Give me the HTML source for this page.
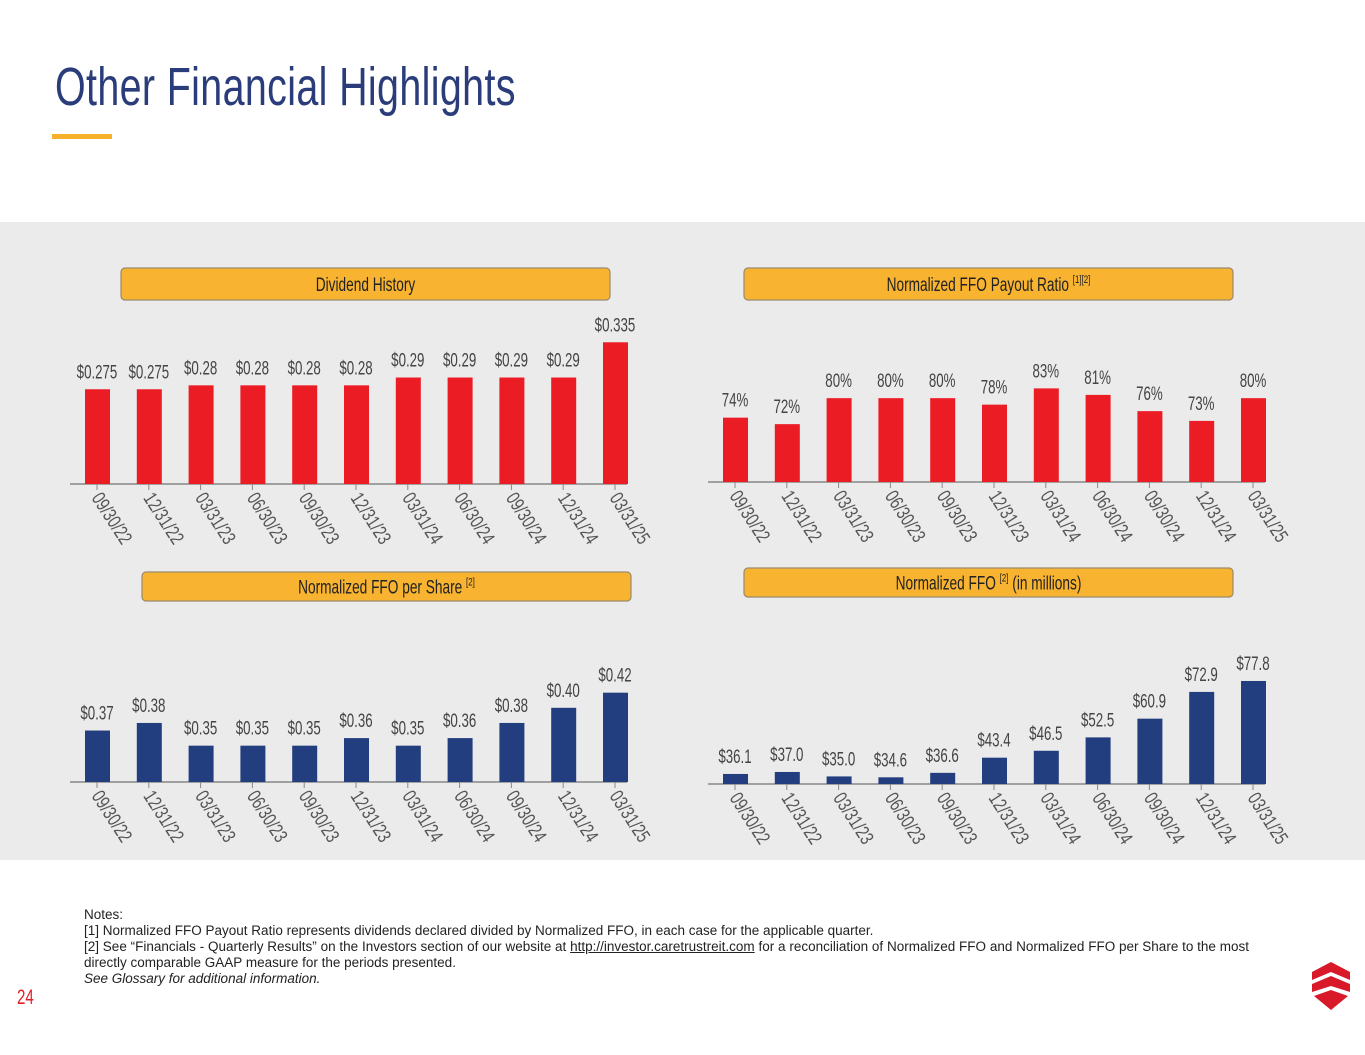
<!DOCTYPE html>
<html><head><meta charset="utf-8">
<style>
body{margin:0;width:1365px;height:1055px;background:#fff;position:relative;overflow:hidden;font-family:"Liberation Sans",sans-serif;}
#title{position:absolute;left:55px;top:56px;font-size:54px;color:#2a3d7a;transform:scaleX(0.73);transform-origin:left top;white-space:nowrap;letter-spacing:0.5px}
#uline{position:absolute;left:52px;top:134px;width:60px;height:5px;background:#f6b12b}
#panel{position:absolute;left:0;top:222px;width:1365px;height:638px;background:#ebebeb}
svg{position:absolute;left:0;top:0}
#notes{position:absolute;left:84px;top:907px;width:1165px;font-family:"Liberation Sans",sans-serif;font-size:13.5px;line-height:16px;color:#222;text-align:justify}
#pnum{position:absolute;left:17px;top:986px;font-size:21px;color:#e31e24;transform:scaleX(0.72);transform-origin:left top}
</style></head><body>
<div id="title">Other Financial Highlights</div>
<div id="uline"></div>
<div id="panel"></div>
<svg id="chart" width="1365" height="1055"></svg>
<div id="notes">Notes:<br>[1] Normalized FFO Payout Ratio represents dividends declared divided by Normalized FFO, in each case for the applicable quarter.<br>[2] See “Financials - Quarterly Results” on the Investors section of our website at <u>http://investor.caretrustreit.com</u> for a reconciliation of Normalized FFO and Normalized FFO per Share to the most directly comparable GAAP measure for the periods presented.<br><i>See Glossary for additional information.</i></div>
<div id="pnum">24</div>
<svg width="1365" height="1055" style="pointer-events:none">
<g fill="#d7192a">
<polygon points="1312,972 1331,962 1350,972 1350,980 1331,972 1312,980"/>
<polygon points="1312,984 1331,976 1350,984 1350,992 1331,986 1312,992"/>
<polygon points="1314,996 1331,990 1348,996 1331,1010"/>
</g></svg>
<script>
const categories=["09/30/22","12/31/22","03/31/23","06/30/23","09/30/23","12/31/23","03/31/24","06/30/24","09/30/24","12/31/24","03/31/25"];
const dividendValues=[0.275,0.275,0.28,0.28,0.28,0.28,0.29,0.29,0.29,0.29,0.335];
const dividendLabels=["$0.275","$0.275","$0.28","$0.28","$0.28","$0.28","$0.29","$0.29","$0.29","$0.29","$0.335"];
const payoutValues=[74,72,80,80,80,78,83,81,76,73,80];
const payoutLabels=["74%","72%","80%","80%","80%","78%","83%","81%","76%","73%","80%"];
const ffoShareValues=[0.37,0.38,0.35,0.35,0.35,0.36,0.35,0.36,0.38,0.40,0.42];
const ffoShareLabels=["$0.37","$0.38","$0.35","$0.35","$0.35","$0.36","$0.35","$0.36","$0.38","$0.40","$0.42"];
const ffoValues=[36.1,37.0,35.0,34.6,36.6,43.4,46.5,52.5,60.9,72.9,77.8];
const ffoLabels=["$36.1","$37.0","$35.0","$34.6","$36.6","$43.4","$46.5","$52.5","$60.9","$72.9","$77.8"];

const NS="http://www.w3.org/2000/svg";
const svg=document.getElementById('chart');
function mk(tag,attrs,parent){const e=document.createElementNS(NS,tag);for(const k in attrs)e.setAttribute(k,attrs[k]);(parent||svg).appendChild(e);return e;}

function header(x,y,w,h,text,sup,after,name){
  const g=mk('g',{});
  
  
  mk('rect',{x:x,y:y,width:w,height:h,rx:4,fill:'#f8b330',stroke:'#9a8a6a','stroke-width':1.2},g);
  const t=mk('text',{x:0,y:0,'text-anchor':'middle','font-size':19,fill:'#222',transform:`translate(${x+w/2},${y+h/2+7}) scale(0.72,1)`},g);
  t.textContent=text;
  if(sup){const s=mk('tspan',{'font-size':11,dy:-8},t);s.textContent=sup;}
  if(after){const s=mk('tspan',{dy:sup?8:0},t);s.textContent=after;}
}

function chart(o){
  const g=mk('g',{});
  
  
  const x=i=>o.x0+i*o.step;
  const y=v=>o.base-(v-o.min)*o.scale;
  mk('line',{x1:o.x0-27,x2:x(categories.length-1)+12,y1:o.base,y2:o.base,stroke:'#888','stroke-width':1.5},g);
  o.values.forEach((v,i)=>{
    const r=mk('rect',{x:x(i)-12,y:y(v),width:25,height:o.base-y(v),fill:o.color},g);
    
    
    const lt=mk('text',{x:0,y:0,'text-anchor':'middle','font-size':19,fill:'#444',transform:`translate(${x(i)},${y(v)-11}) scale(0.7,1)`},g);
    
    
    lt.textContent=o.labels[i];
    mk('line',{x1:x(i),x2:x(i),y1:o.base,y2:o.base+6,stroke:'#888','stroke-width':1},g);
    const tl=mk('text',{x:0,y:0,'font-size':19.5,fill:'#555',transform:`translate(${x(i)-6},${o.base+14}) rotate(57) scale(0.75,1)`},g);
    
    
    tl.textContent=categories[i];
  });
}

header(121,268,489,32,'Dividend History','','','header-dividend-history');
header(744,268,489,32,'Normalized FFO Payout Ratio ','[1][2]','','header-payout-ratio');
header(142,572,489,29,'Normalized FFO per Share ','[2]','','header-ffo-per-share');
header(744,568,489,29,'Normalized FFO ','[2]',' (in millions)','header-ffo-millions');

chart({name:'dividend-history-chart',values:dividendValues,labels:dividendLabels,x0:97,step:51.8,base:484,min:0.154,scale:783,color:'#ec1c24'});
chart({name:'payout-ratio-chart',values:payoutValues,labels:payoutLabels,x0:735,step:51.8,base:482,min:54.2,scale:3.25,color:'#ec1c24'});
chart({name:'ffo-per-share-chart',values:ffoShareValues,labels:ffoShareLabels,x0:97,step:51.8,base:782,min:0.302,scale:757,color:'#233e7f'});
chart({name:'ffo-millions-chart',values:ffoValues,labels:ffoLabels,x0:735,step:51.8,base:784,min:31.6,scale:2.23,color:'#233e7f'});
</script>
</body></html>
